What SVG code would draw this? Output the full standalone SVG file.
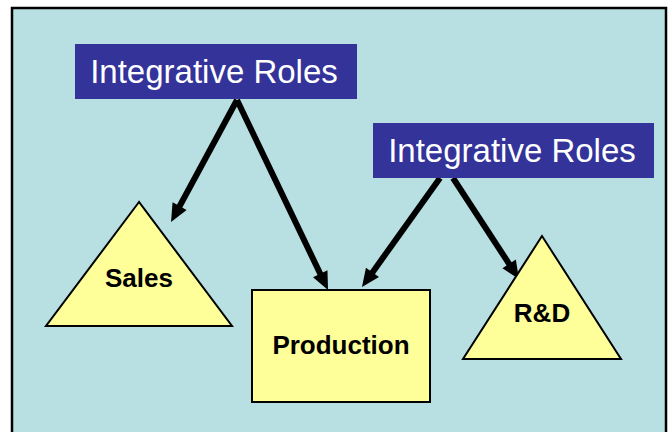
<svg xmlns="http://www.w3.org/2000/svg" width="670" height="432" viewBox="0 0 670 432">
  <style>
    .frame { fill: #b8dfe1; stroke: #000; stroke-width: 2.5; }
    .role rect { fill: #333399; }
    .role text { fill: #fff; font-family: "Liberation Sans", Arial, sans-serif; font-size: 33px; text-anchor: middle; }
    .unit polygon, .unit rect { fill: #ffff99; stroke: #000; stroke-width: 2; stroke-linejoin: miter; }
    .unit text { fill: #000; font-family: "Liberation Sans", Arial, sans-serif; font-size: 26px; font-weight: bold; text-anchor: middle; }
    .link { stroke: #000; stroke-width: 6; fill: none; marker-end: url(#arrow); }
  </style>
  <defs>
    <marker id="arrow" markerUnits="userSpaceOnUse" markerWidth="20" markerHeight="18" refX="8" refY="8" orient="auto" overflow="visible">
      <path d="M0,0 L18,8 L0,16 Z" fill="#000"/>
    </marker>
  </defs>

  <rect width="670" height="432" fill="#fff"/>
  <rect class="frame" x="12" y="8" width="654" height="440"/>

  <g id="connectors">
    <line class="link" x1="237" y1="100" x2="175.8" y2="213.2"/>
    <line class="link" x1="237" y1="100" x2="323.7" y2="281.0"/>
    <line class="link" x1="440" y1="178" x2="367.8" y2="278.9"/>
    <line class="link" x1="453" y1="178" x2="513.5" y2="270.6"/>
  </g>

  <g id="roles-left" class="role">
    <rect x="75" y="44" width="282" height="55"/>
    <text x="214" y="83">Integrative Roles</text>
  </g>

  <g id="roles-right" class="role">
    <rect x="373" y="123" width="281" height="55"/>
    <text x="512" y="162">Integrative Roles</text>
  </g>

  <g id="sales" class="unit">
    <polygon points="139,202 46,326 232,326"/>
    <text x="139" y="287">Sales</text>
  </g>

  <g id="production" class="unit">
    <rect x="252" y="290" width="178" height="112"/>
    <text x="341" y="354">Production</text>
  </g>

  <g id="rnd" class="unit">
    <polygon points="542,236 463,359 621,359"/>
    <text x="542" y="322">R&amp;D</text>
  </g>
</svg>
